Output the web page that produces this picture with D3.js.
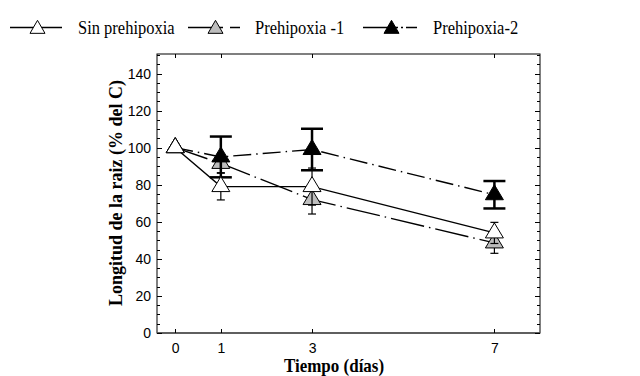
<!DOCTYPE html>
<html>
<head>
<meta charset="utf-8">
<script src="https://cdn.jsdelivr.net/npm/d3@7"></script>
<style>
  body { margin: 0; background: #fff; }
  svg { display: block; }
</style>
</head>
<body>
<div id="chart"></div>
<script>
const days = [0, 1, 3, 7];
const seriesNames = ['Sin prehipoxia', 'Prehipoxia -1', 'Prehipoxia-2'];
const sinValues = [100, 79, 79, 54];
const sinErrors = [0, 7.2, 10, 5.7];
const pre1Values = [100, 91.5, 72, 48.6];
const pre1Errors = [0, 5, 7.8, 5.6];
const pre2Values = [100, 95, 99, 74.6];
const pre2Errors = [0, 11, 11.2, 7.4];
const yTicks = [0, 20, 40, 60, 80, 100, 120, 140];

const width = 640, height = 376;
const plot = { left: 157, right: 540, top: 54, bottom: 333 };

const svg = d3.select('#chart').append('svg')
  .attr('width', width)
  .attr('height', height);

const x = d3.scaleLinear().domain([-0.4, 8]).range([plot.left, plot.right]);
const y = d3.scaleLinear().domain([0, 150]).range([plot.bottom, plot.top + 1]);

// styles per series (draw order: grey, black, white)
const series = [
  { name: seriesNames[1], values: pre1Values, errors: pre1Errors, fill: '#bdbdbd', dash: '34,5,1.5,5', legendDash: '35,7,10', capW: 8, errW: 1.2 },
  { name: seriesNames[2], values: pre2Values, errors: pre2Errors, fill: '#000', dash: '18,5,1.5,5', legendDash: '35,3,2,3,12', capW: 22, errW: 2.5 },
  { name: seriesNames[0], values: sinValues, errors: sinErrors, fill: '#fff', dash: null, legendDash: null, capW: 8, errW: 1.2 }
];

function triangle(cx, cy, w, h) {
  // centred on centroid
  return `M${cx - w / 2},${cy + h / 3}L${cx},${cy - 2 * h / 3}L${cx + w / 2},${cy + h / 3}Z`;
}

// frame
svg.append('rect')
  .attr('x', plot.left).attr('y', plot.top)
  .attr('width', plot.right - plot.left).attr('height', plot.bottom - plot.top)
  .attr('fill', 'none').attr('stroke', '#000').attr('stroke-width', 1);
svg.append('line')
  .attr('x1', plot.left).attr('x2', plot.right)
  .attr('y1', plot.bottom).attr('y2', plot.bottom)
  .attr('stroke', '#555').attr('stroke-width', 1.5);

// y axis (left) with inward ticks
const minor = d3.range(0, 151, 5);
const yAxisL = svg.append('g').attr('transform', `translate(${plot.left},0)`);
yAxisL.call(d3.axisLeft(y).tickValues(yTicks).tickSize(0).tickPadding(6).tickFormat(d3.format('d')));
yAxisL.select('.domain').remove();
yAxisL.selectAll('text').attr('font-family', 'Liberation Sans, Arial, sans-serif').attr('font-size', 14).attr('fill', '#000');
[plot.left, plot.right].forEach((px, i) => {
  const dir = i === 0 ? 1 : -1;
  svg.append('g').selectAll('line').data(minor).join('line')
    .attr('x1', px).attr('x2', d => px + dir * (d % 20 === 0 ? 5 : 3))
    .attr('y1', d => Math.round(y(d)) + 0.5).attr('y2', d => Math.round(y(d)) + 0.5)
    .attr('stroke', '#000').attr('stroke-width', 1);
});

// x axis
const xAxis = svg.append('g').attr('transform', `translate(0,${plot.bottom})`);
xAxis.call(d3.axisBottom(x).tickValues(days).tickSize(0).tickPadding(10));
xAxis.select('.domain').remove();
xAxis.selectAll('text').attr('font-family', 'Liberation Sans, Arial, sans-serif').attr('font-size', 14).attr('fill', '#000');
[plot.bottom, plot.top].forEach((py, i) => {
  const dir = i === 0 ? -1 : 1;
  svg.append('g').selectAll('line').data(days).join('line')
    .attr('x1', d => Math.round(x(d)) + 0.5).attr('x2', d => Math.round(x(d)) + 0.5)
    .attr('y1', py).attr('y2', py + dir * 4)
    .attr('stroke', '#000').attr('stroke-width', 1);
});

// axis titles
svg.append('text')
  .attr('transform', 'translate(334,372) scale(1,1.1)')
  .attr('text-anchor', 'middle')
  .attr('font-family', 'Liberation Serif, Times New Roman, serif')
  .attr('font-weight', 'bold').attr('font-size', 17)
  .text('Tiempo (días)');
svg.append('text')
  .attr('transform', `translate(122,193) rotate(-90)`)
  .attr('text-anchor', 'middle')
  .attr('font-family', 'Liberation Serif, Times New Roman, serif')
  .attr('font-weight', 'bold').attr('font-size', 18)
  .text('Longitud de la raiz (% del C)');

// lines
const line = d3.line().x((d, i) => x(days[i])).y(d => y(d));
series.forEach(s => {
  svg.append('path')
    .attr('d', line(s.values))
    .attr('fill', 'none').attr('stroke', '#000').attr('stroke-width', 1.4)
    .attr('stroke-dasharray', s.dash);
});

// error bars and markers
series.forEach(s => {
  const g = svg.append('g');
  s.values.forEach((v, i) => {
    const e = s.errors[i];
    if (e > 0) {
      const cx = x(days[i]);
      g.append('line').attr('x1', cx).attr('x2', cx).attr('y1', y(v - e)).attr('y2', y(v + e))
        .attr('stroke', '#000').attr('stroke-width', s.errW);
      [v - e, v + e].forEach(t => {
        g.append('line').attr('x1', cx - s.capW / 2).attr('x2', cx + s.capW / 2)
          .attr('y1', y(t)).attr('y2', y(t))
          .attr('stroke', '#000').attr('stroke-width', s.errW);
      });
    }
  });
  g.selectAll('path').data(s.values).join('path')
    .attr('d', (v, i) => triangle(x(days[i]), y(v), 18, 15))
    .attr('fill', s.fill).attr('stroke', '#000').attr('stroke-width', 1);
});

// legend
const legendItems = [
  { s: series[2], x0: 10, x1: 62, tx: 78 },
  { s: series[0], x0: 188, x1: 240, tx: 255 },
  { s: series[1], x0: 363, x1: 417, tx: 433 }
];
const ly = 27.5;
legendItems.forEach(it => {
  svg.append('line')
    .attr('x1', it.x0).attr('x2', it.x1).attr('y1', ly).attr('y2', ly)
    .attr('stroke', '#000').attr('stroke-width', 1.4)
    .attr('stroke-dasharray', it.s.legendDash);
  svg.append('path')
    .attr('d', triangle((it.x0 + it.x1) / 2 + 1.5, ly + 1.5, 15, 13))
    .attr('fill', it.s.fill).attr('stroke', '#000').attr('stroke-width', 1);
  svg.append('text')
    .attr('transform', `translate(${it.tx},34) scale(1,1.18)`)
    .attr('font-family', 'Liberation Serif, Times New Roman, serif')
    .attr('font-size', 16.5)
    .text(it.s.name);
});
</script>
</body>
</html>
